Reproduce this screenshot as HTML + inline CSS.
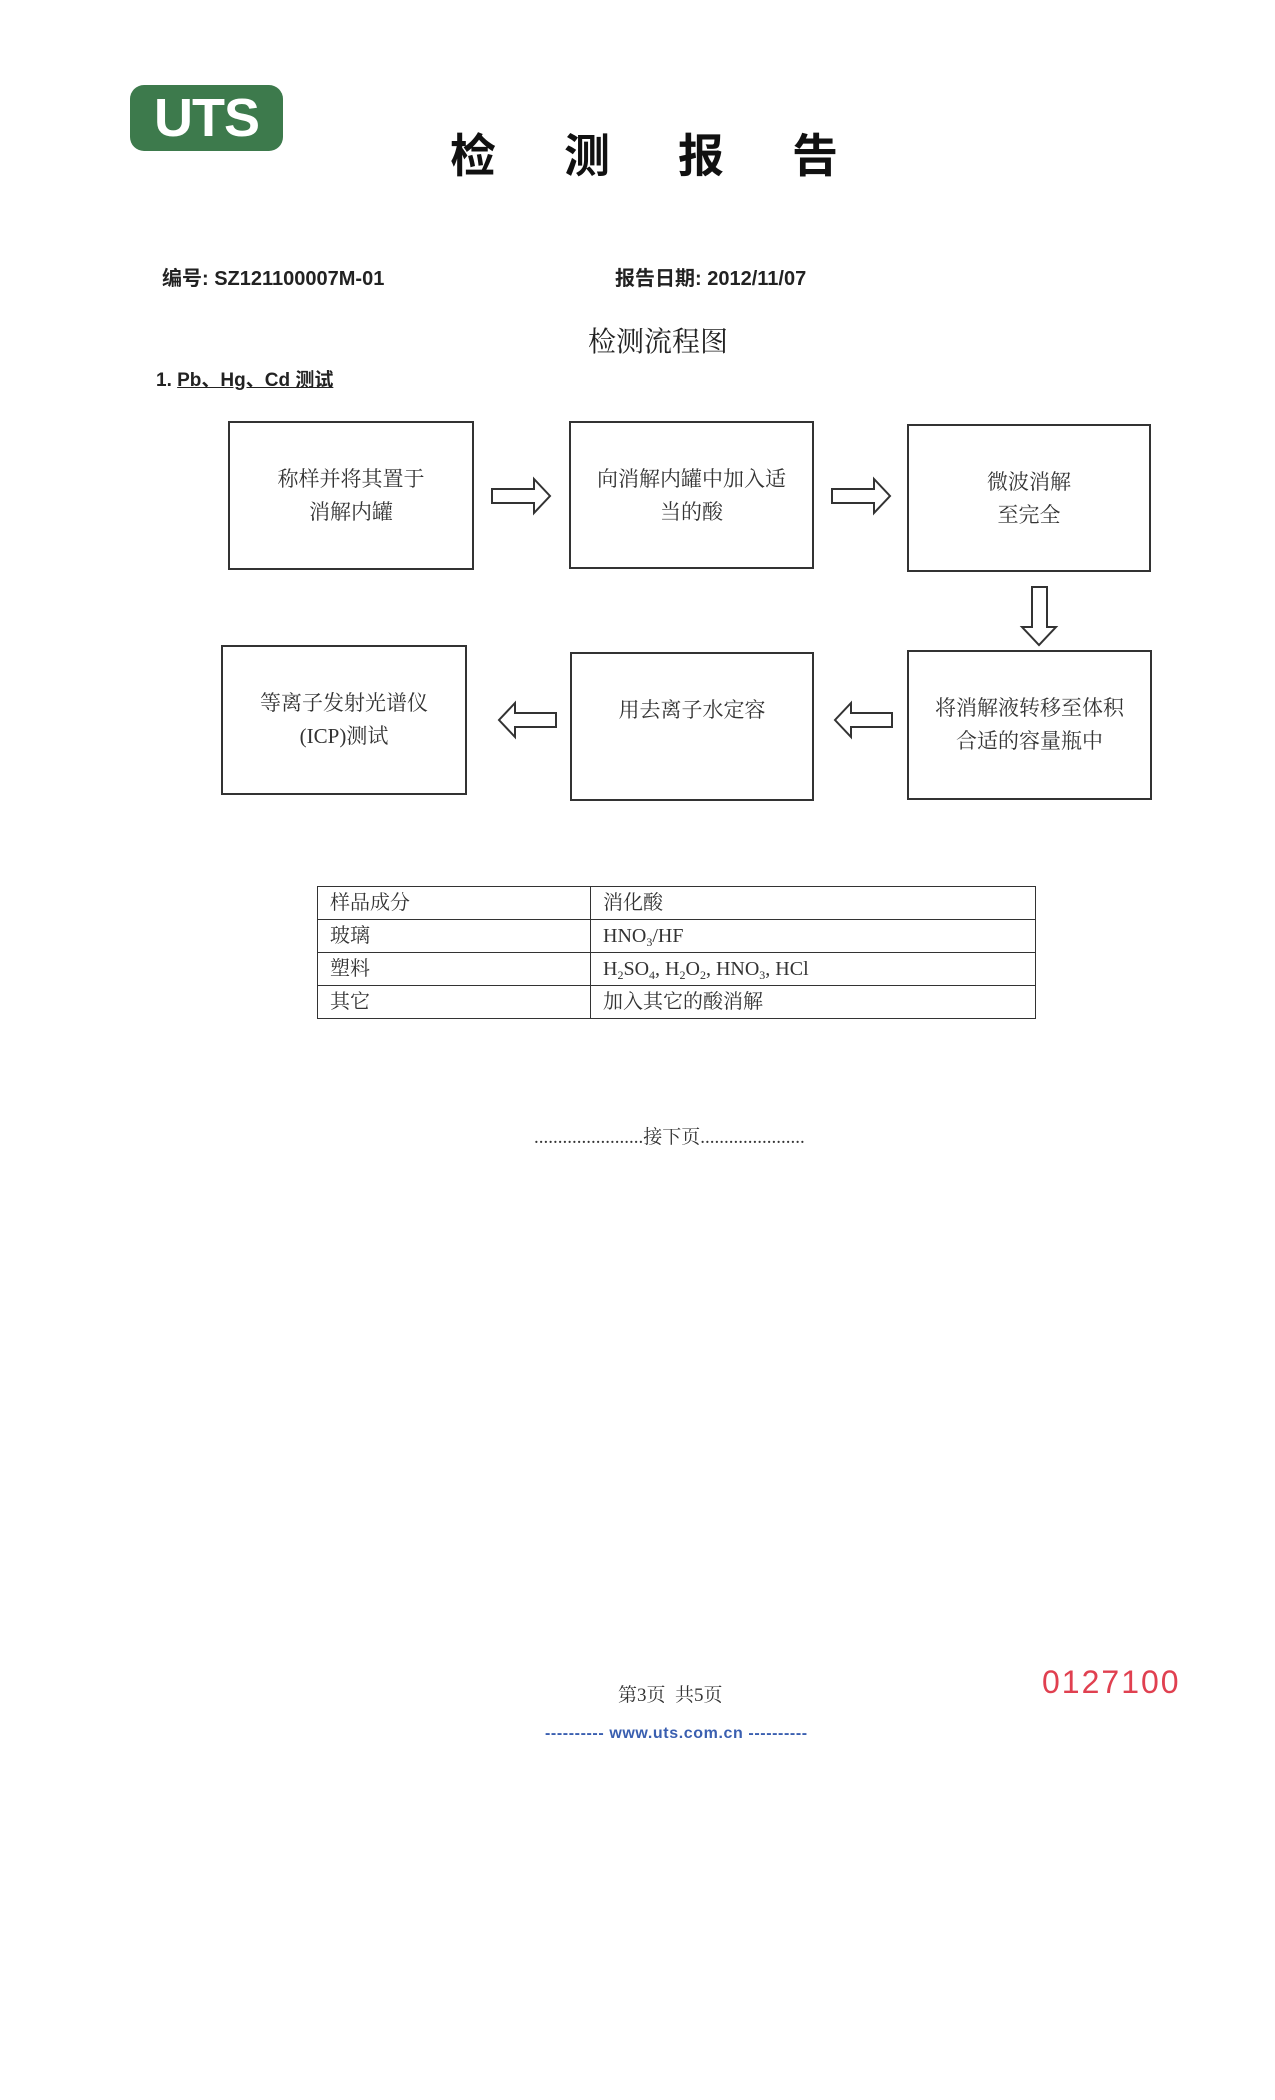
<!DOCTYPE html>
<html><head><meta charset="utf-8"><style>
body{margin:0;width:1275px;height:2100px;background:#fff;position:relative;overflow:hidden;font-family:"Liberation Serif","Noto Serif CJK SC",serif;color:#222}
.a{position:absolute}
.box{position:absolute;border:2px solid #333;box-sizing:border-box;text-align:center;font-size:21px;line-height:33px;color:#333;padding-top:40px}
.b{font-family:"Liberation Sans","Noto Sans CJK SC",sans-serif;font-weight:bold}
table{position:absolute;left:317px;top:886px;width:719px;border-collapse:collapse;font-size:20px;color:#333}
td{border:1.5px solid #333;height:32px;padding:0 12px;line-height:32px}
sub{font-size:12px;line-height:0;vertical-align:-4px}
</style></head><body>
<div class="a b" style="left:130px;top:85px;width:153px;height:66px;background:#3d7a4c;border-radius:14px;color:#fff;font-size:54px;line-height:66px;text-align:center;letter-spacing:-1px">UTS</div>
<div class="a b" style="left:450px;top:128px;font-size:46px;line-height:56px;color:#111;letter-spacing:68px">检测报告</div>
<div class="a b" style="left:162px;top:262px;font-size:20px;color:#222">编号: SZ121100007M-01</div>
<div class="a b" style="left:615px;top:262px;font-size:20px;color:#222">报告日期: 2012/11/07</div>
<div class="a" style="left:588px;top:320px;font-size:28px;color:#222">检测流程图</div>
<div class="a b" style="left:156px;top:365px;font-size:19px">1. <span style="text-decoration:underline">Pb、Hg、Cd 测试</span></div>

<div class="box" style="left:228px;top:421px;width:246px;height:149px">称样并将其置于<br>消解内罐</div>
<div class="box" style="left:569px;top:421px;width:245px;height:148px">向消解内罐中加入适<br>当的酸</div>
<div class="box" style="left:907px;top:424px;width:244px;height:148px">微波消解<br>至完全</div>
<div class="box" style="left:221px;top:645px;width:246px;height:150px">等离子发射光谱仪<br>(ICP)测试</div>
<div class="box" style="left:570px;top:652px;width:244px;height:149px">用去离子水定容</div>
<div class="box" style="left:907px;top:650px;width:245px;height:150px">将消解液转移至体积<br>合适的容量瓶中</div>

<svg class="a" style="left:0;top:0" width="1275" height="1100" fill="none" stroke="#333" stroke-width="2">
<polygon points="492,489 534,489 534,479 550,496 534,513 534,503 492,503"/>
<polygon points="832,489 874,489 874,479 890,496 874,513 874,503 832,503"/>
<polygon points="1032,587 1047,587 1047,627 1056,627 1039,645 1022,627 1032,627"/>
<polygon points="556,713 515,713 515,703 499,720 515,737 515,727 556,727"/>
<polygon points="892,713 851,713 851,703 835,720 851,737 851,727 892,727"/>
</svg>

<table>
<tr><td style="width:248px">样品成分</td><td>消化酸</td></tr>
<tr><td>玻璃</td><td>HNO<sub>3</sub>/HF</td></tr>
<tr><td>塑料</td><td>H<sub>2</sub>SO<sub>4</sub>, H<sub>2</sub>O<sub>2</sub>, HNO<sub>3</sub>, HCl</td></tr>
<tr><td>其它</td><td>加入其它的酸消解</td></tr>
</table>

<div class="a" style="left:534px;top:1122px;font-size:19px;color:#333">.......................接下页......................</div>
<div class="a" style="left:618px;top:1680px;font-size:19px;color:#333">第3页 &nbsp;共5页</div>
<div class="a" style="left:545px;top:1725px;font-size:16px;color:#3a5fb0;font-family:'Liberation Sans',sans-serif;font-weight:bold;letter-spacing:0.6px">---------- www.uts.com.cn ----------</div>
<div class="a" style="left:1042px;top:1664px;font-size:32px;color:#e04050;font-family:'Liberation Sans',sans-serif;letter-spacing:2px">0127100</div>
</body></html>
